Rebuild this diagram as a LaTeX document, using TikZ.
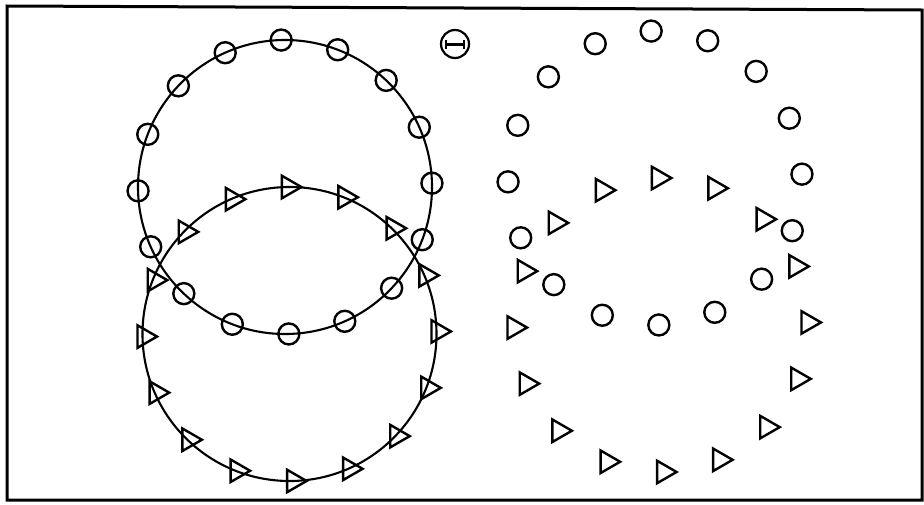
\documentclass[tikz,border=0pt]{standalone}
\usetikzlibrary{shapes.geometric}
\begin{document}
\begin{tikzpicture}[x=1pt,y=-1pt,
  ring/.style={line width=2.1pt},
  dot/.style={circle,draw,line width=2.4pt,minimum size=21pt,inner sep=0pt,outer sep=0pt},
  tri/.style={regular polygon,regular polygon sides=3,shape border rotate=-90,draw,line width=2.4pt,minimum size=26pt,inner sep=0pt,outer sep=0pt,line join=miter},
  frame/.style={line width=3pt,line join=miter}]
\useasboundingbox (0,0) rectangle (924,504);
% frame
\coordinate (f1) at (7,6);
\coordinate (f2) at (922,10);
\coordinate (f3) at (922,500);
\coordinate (f4) at (7,500);
\draw[frame] (f1) -- (f2) -- (f3) -- (f4) -- cycle;
% left figure: rings
\coordinate (uo) at (285,187);
\coordinate (lo) at (289.5,334);
\draw[ring] (uo) circle[radius=147pt];
\draw[ring] (lo) circle[radius=147pt];
% markers
\foreach \k in {0,...,15}{
  \pgfmathsetmacro\a{91.5-22.5*\k}
  \pgfmathsetmacro\b{91-22.5*\k}
  \node[dot] (uc\k) at ({285+147*cos(\a)},{187-147*sin(\a)}) {};
  \node[tri] (lt\k) at ({289.5+1.5+147*cos(\b)},{334-147*sin(\b)}) {};
  \node[dot] (rc\k) at ({285+370+147*cos(\a)},{187-9-147*sin(\a)}) {};
  \node[tri] (rt\k) at ({289.5+370+1.5+147*cos(\b)},{334-9-147*sin(\b)}) {};
}
% symbol
\node[circle,draw,line width=2.2pt,minimum size=28pt,inner sep=0pt] (sym) at (455,44) {};
\draw[line width=3pt] ([xshift=-9pt]sym.center) -- ([xshift=9pt]sym.center);
\draw[line width=2.2pt] ([xshift=-9pt,yshift=-4.5pt]sym.center) -- ([xshift=-9pt,yshift=4.5pt]sym.center);
\draw[line width=2.2pt] ([xshift=9pt,yshift=-4.5pt]sym.center) -- ([xshift=9pt,yshift=4.5pt]sym.center);
\end{tikzpicture}
\end{document}
